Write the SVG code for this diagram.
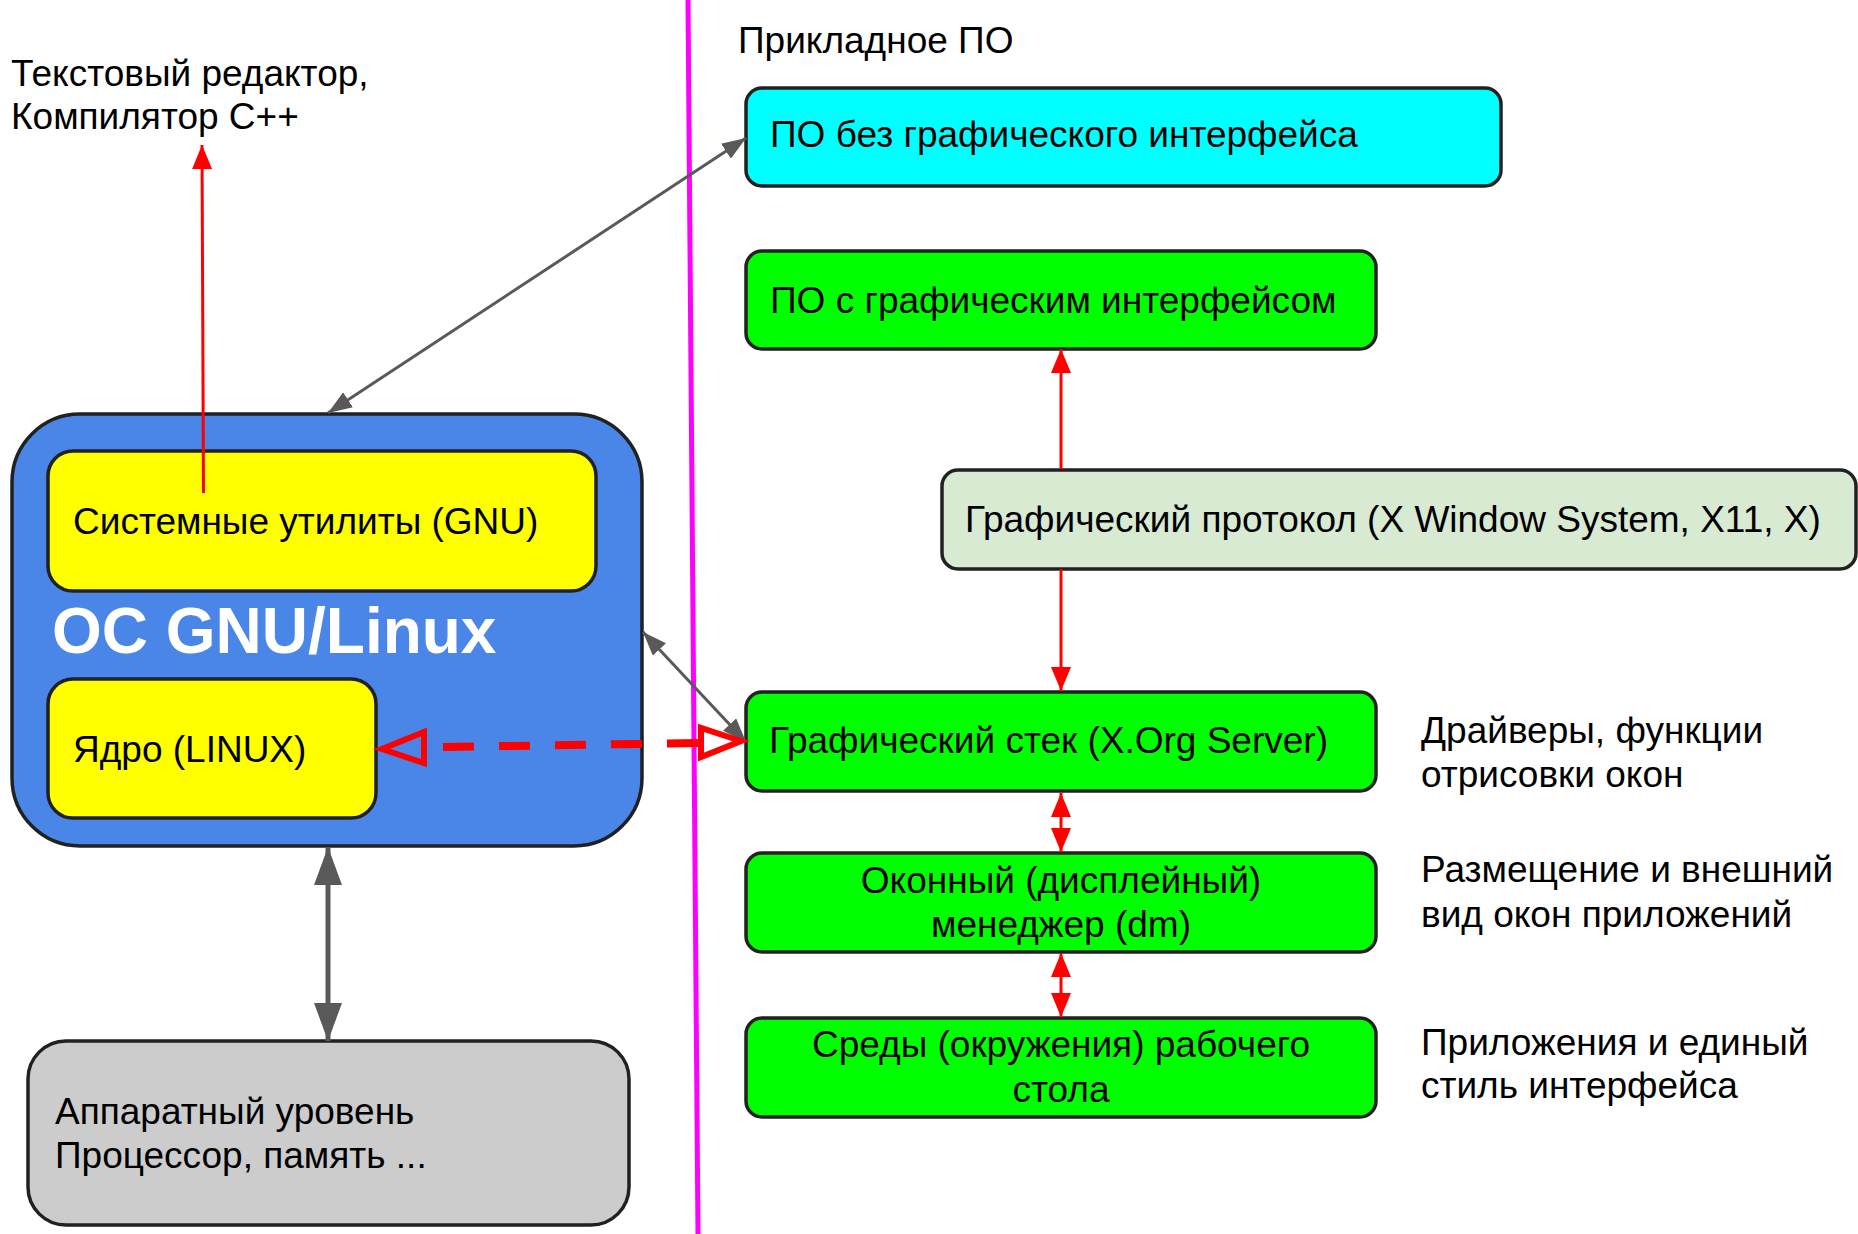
<svg xmlns="http://www.w3.org/2000/svg" width="1858" height="1234" viewBox="0 0 1858 1234">
<defs>
<style>
.box{stroke:#212121;stroke-width:3.5}
.t{font-family:"Liberation Sans",Arial,sans-serif;font-size:37px;fill:#000}
.c{text-anchor:middle}
.red{stroke:#ff0000;stroke-width:3;fill:none}
.grey{stroke:#595959;stroke-width:3;fill:none}
</style>
<marker id="ar" markerUnits="userSpaceOnUse" markerWidth="24" markerHeight="20" refX="24" refY="10" orient="auto-start-reverse" viewBox="0 0 24 20">
<path d="M0,0 L24,10 L0,20 z" fill="#ff0000"/>
</marker>
<marker id="ag" markerUnits="userSpaceOnUse" markerWidth="24" markerHeight="18" refX="24" refY="9" orient="auto-start-reverse" viewBox="0 0 24 18">
<path d="M0,0 L24,9 L0,18 z" fill="#595959"/>
</marker>
<marker id="agb" markerUnits="userSpaceOnUse" markerWidth="38" markerHeight="28" refX="38" refY="14" orient="auto-start-reverse" viewBox="0 0 38 28">
<path d="M0,0 L38,14 L0,28 z" fill="#595959"/>
</marker>
</defs>
<rect width="1858" height="1234" fill="#ffffff"/>

<g id="os">
<rect class="box" x="12" y="414" width="630" height="432" rx="68" fill="#4a86e8"/>
<text x="52" y="653" font-family="Liberation Sans,Arial,sans-serif" font-size="64" font-weight="bold" fill="#ffffff">ОС GNU/Linux</text>
</g>
<g id="utils">
<rect class="box" x="48" y="451" width="548" height="140" rx="25" fill="#ffff00"/>
<text class="t" x="73" y="534">Системные утилиты (GNU)</text>
</g>
<g id="kernel">
<rect class="box" x="48" y="679" width="328" height="139" rx="25" fill="#ffff00"/>
<text class="t" x="73" y="762">Ядро (LINUX)</text>
</g>
<g id="hardware">
<rect class="box" x="28" y="1041" width="601" height="184" rx="38" fill="#cccccc"/>
<text class="t" x="55" y="1124">Аппаратный уровень</text>
<text class="t" x="55" y="1168">Процессор, память ...</text>
</g>
<g id="editor">
<text class="t" x="11" y="86">Текстовый редактор,</text>
<text class="t" x="11" y="129">Компилятор C++</text>
</g>
<g id="divider">
<line x1="688" y1="0" x2="698" y2="1234" stroke="#ff00ff" stroke-width="5"/>
</g>
<g id="apps-label">
<text class="t" x="738" y="53">Прикладное ПО</text>
</g>
<g id="cli">
<rect class="box" x="746" y="88" width="755" height="98" rx="16" fill="#00ffff"/>
<text class="t" x="770" y="147">ПО без графического интерфейса</text>
</g>
<g id="gui">
<rect class="box" x="746" y="251" width="630" height="98" rx="16" fill="#00ff00"/>
<text class="t" x="770" y="313">ПО с графическим интерфейсом</text>
</g>
<g id="protocol">
<rect class="box" x="942" y="470" width="914" height="99" rx="16" fill="#d9ead3"/>
<text class="t" x="965" y="532">Графический протокол (X Window System, X11, X)</text>
</g>
<g id="xorg">
<rect class="box" x="746" y="692" width="630" height="99" rx="16" fill="#00ff00"/>
<text class="t" x="769" y="753">Графический стек (X.Org Server)</text>
</g>
<g id="wm">
<rect class="box" x="746" y="853" width="630" height="99" rx="16" fill="#00ff00"/>
<text class="t c" x="1061" y="893">Оконный (дисплейный)</text>
<text class="t c" x="1061" y="937">менеджер (dm)</text>
</g>
<g id="de">
<rect class="box" x="746" y="1018" width="630" height="99" rx="16" fill="#00ff00"/>
<text class="t c" x="1061" y="1057">Среды (окружения) рабочего</text>
<text class="t c" x="1061" y="1102">стола</text>
</g>
<g id="note-xorg">
<text class="t" x="1421" y="743">Драйверы, функции</text>
<text class="t" x="1421" y="787">отрисовки окон</text>
</g>
<g id="note-wm">
<text class="t" x="1421" y="882">Размещение и внешний</text>
<text class="t" x="1421" y="927">вид окон приложений</text>
</g>
<g id="note-de">
<text class="t" x="1421" y="1055">Приложения и единый</text>
<text class="t" x="1421" y="1098">стиль интерфейса</text>
</g>

<g id="connectors">
<line class="red" x1="203.5" y1="493" x2="202" y2="145" marker-end="url(#ar)"/>
<line class="grey" x1="328" y1="413" x2="746" y2="138" marker-start="url(#ag)" marker-end="url(#ag)"/>
<line class="grey" x1="643" y1="632" x2="746" y2="742" marker-start="url(#ag)" marker-end="url(#ag)"/>
<line x1="328" y1="847" x2="328" y2="1041" stroke="#595959" stroke-width="5" marker-start="url(#agb)" marker-end="url(#agb)"/>
<line class="red" x1="1061" y1="469" x2="1061" y2="349" marker-end="url(#ar)"/>
<line class="red" x1="1061" y1="569" x2="1061" y2="691" marker-end="url(#ar)"/>
<line class="red" x1="1061" y1="793" x2="1061" y2="852" marker-start="url(#ar)" marker-end="url(#ar)"/>
<line class="red" x1="1061" y1="953" x2="1061" y2="1017" marker-start="url(#ar)" marker-end="url(#ar)"/>
<line x1="443" y1="747" x2="698" y2="743" stroke="#ff0000" stroke-width="8" stroke-dasharray="31 25"/>
<polygon points="382,749 424,732 424,763" fill="none" stroke="#ff0000" stroke-width="6"/>
<polygon points="741,741 701,728 701,757" fill="none" stroke="#ff0000" stroke-width="6"/>
</g>
</svg>
